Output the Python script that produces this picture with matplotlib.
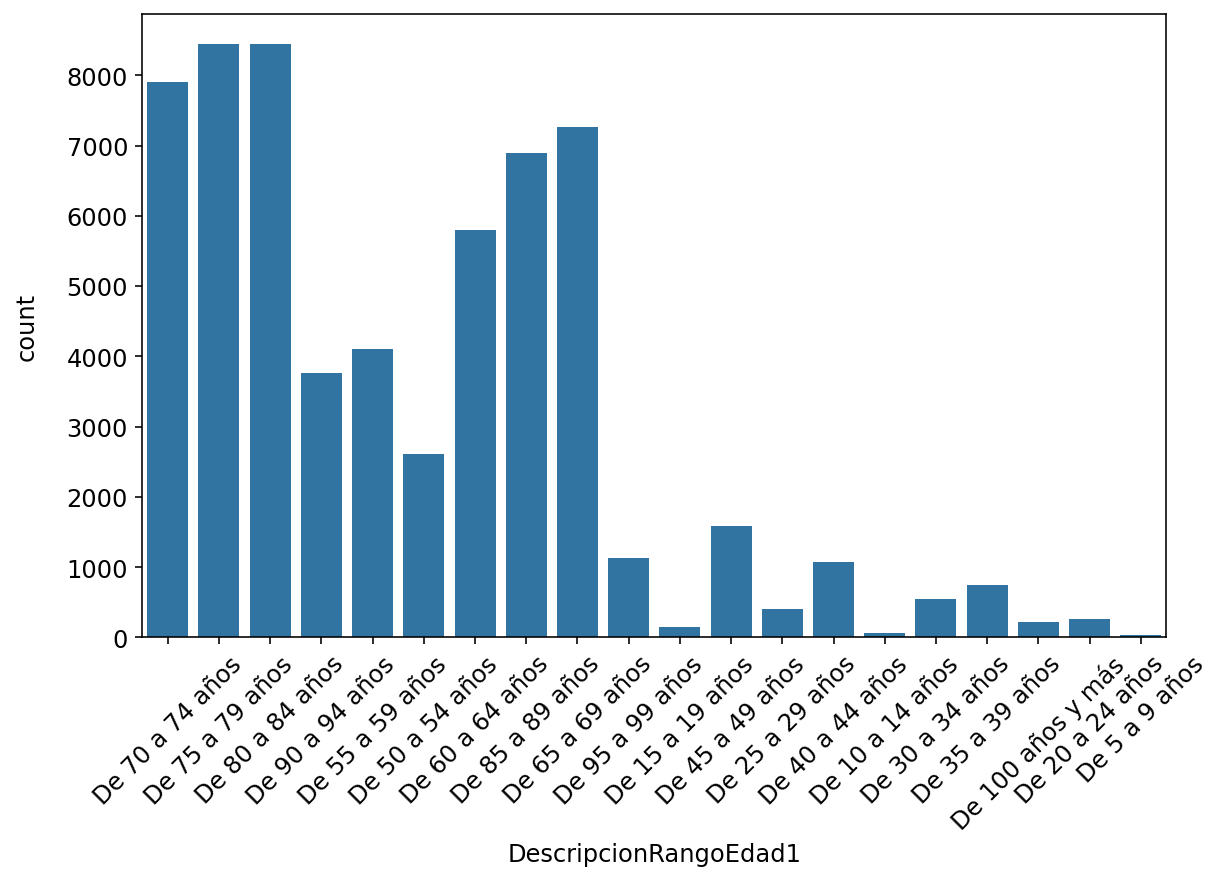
import matplotlib
matplotlib.use("Agg")
import matplotlib.pyplot as plt
import seaborn as sns
import pandas as pd

rangos = [
    "De 70 a 74 años", "De 75 a 79 años", "De 80 a 84 años", "De 90 a 94 años",
    "De 55 a 59 años", "De 50 a 54 años", "De 60 a 64 años", "De 85 a 89 años",
    "De 65 a 69 años", "De 95 a 99 años", "De 15 a 19 años", "De 45 a 49 años",
    "De 25 a 29 años", "De 40 a 44 años", "De 10 a 14 años", "De 30 a 34 años",
    "De 35 a 39 años", "De 100 años y más", "De 20 a 24 años", "De 5 a 9 años",
]
conteos = [7900, 8450, 8450, 3760, 4100, 2610, 5800, 6900, 7270, 1125,
           142, 1580, 405, 1078, 68, 548, 740, 214, 266, 30]

df = pd.DataFrame({"DescripcionRangoEdad1": rangos, "count": conteos})

plt.rcParams["font.size"] = 12

fig = plt.figure(figsize=(8.45, 6.055), dpi=145)
ax = fig.add_axes([0.116, 0.273, 0.836, 0.71])
sns.barplot(data=df, x="DescripcionRangoEdad1", y="count", color="#1f77b4",
            saturation=0.75, ax=ax)
ax.tick_params(labelsize=12)
ax.set_xlabel("DescripcionRangoEdad1", fontsize=12)
ax.set_ylabel("count", fontsize=12, labelpad=14)
plt.xticks(rotation=45)

fig.savefig("out.png", dpi=145)
